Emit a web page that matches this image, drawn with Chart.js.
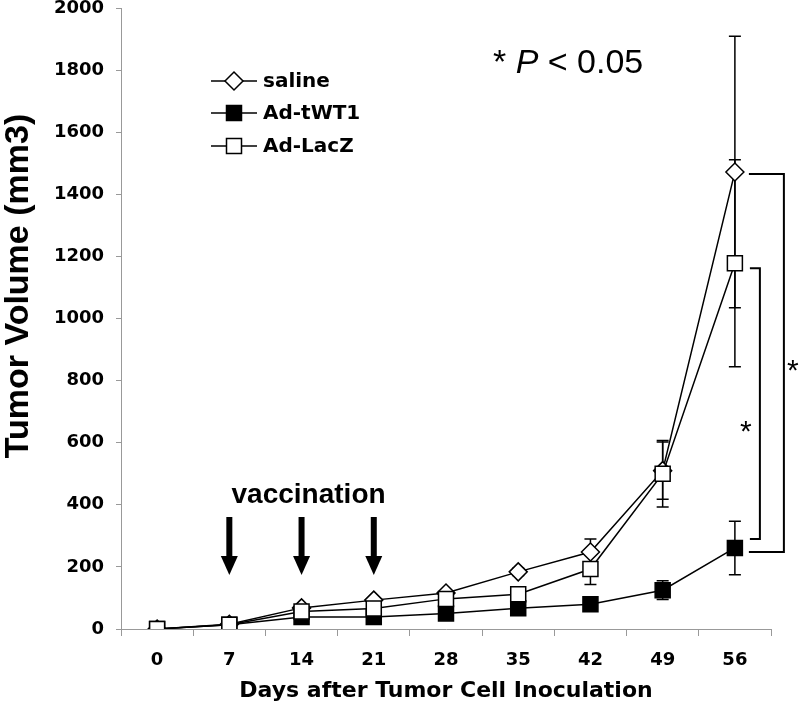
<!DOCTYPE html>
<html>
<head>
<meta charset="utf-8">
<script src="https://cdn.jsdelivr.net/npm/chart.js@4.4.1/dist/chart.umd.min.js"></script>
<style>
html, body { margin: 0; padding: 0; background: #fff; }
</style>
</head>
<body>
<canvas id="myChart" width="800" height="709"></canvas>
<script>
// days after inoculation
const days = ['0', '7', '14', '21', '28', '35', '42', '49', '56'];
const yTicks = [0, 200, 400, 600, 800, 1000, 1200, 1400, 1600, 1800, 2000];

const saline   = [0, 15, 68, 93, 116, 184, 248, 510, 1472];
const salineSd = [0, 6, 8, 8, 10, 12, 42, 92, 437];
const adTWT1   = [0, 14, 39, 39, 50, 67, 80, 125, 261];
const adTWT1Sd = [0, 5, 6, 6, 8, 8, 10, 30, 86];
const adLacZ   = [0, 14, 56, 66, 97, 112, 193, 500, 1178];
const adLacZSd = [0, 6, 8, 8, 10, 12, 50, 107, 333];

const vaccinationDays = ['7', '14', '21'];

// error bars under the lines / markers
const errorBars = {
  id: 'errorBars',
  beforeDatasetsDraw(chart) {
    const ctx = chart.ctx;
    const x = chart.scales.x, y = chart.scales.y;
    ctx.save();
    ctx.strokeStyle = '#000';
    ctx.lineWidth = 1.5;
    chart.data.datasets.forEach(ds => {
      ds.data.forEach((v, j) => {
        const e = ds.errors[j];
        if (!e) return;
        const px = x.getPixelForValue(j);
        const t = y.getPixelForValue(v + e);
        const b = y.getPixelForValue(Math.max(0, v - e));
        ctx.beginPath();
        ctx.moveTo(px, t); ctx.lineTo(px, b);
        ctx.moveTo(px - 6, t); ctx.lineTo(px + 6, t);
        ctx.moveTo(px - 6, b); ctx.lineTo(px + 6, b);
        ctx.stroke();
      });
    });
    ctx.restore();
  }
};

function marker(ctx, style, fill, cx, cy) {
  ctx.beginPath();
  if (style === 'rectRot') {
    const r = 9;
    ctx.moveTo(cx - r, cy); ctx.lineTo(cx, cy - r);
    ctx.lineTo(cx + r, cy); ctx.lineTo(cx, cy + r);
    ctx.closePath();
  } else {
    ctx.rect(cx - 7.5, cy - 7.5, 15, 15);
  }
  ctx.fillStyle = fill;
  ctx.fill();
  ctx.lineWidth = 1.5;
  ctx.strokeStyle = '#000';
  ctx.stroke();
}

// legend, axis title, arrows, brackets, p-value text
const extras = {
  id: 'extras',
  afterDraw(chart) {
    const ctx = chart.ctx;
    const x = chart.scales.x, y = chart.scales.y;
    ctx.save();

    // y axis title (sits a bit above the axis centre in the original)
    ctx.save();
    ctx.translate(28, 286);
    ctx.rotate(-Math.PI / 2);
    ctx.font = 'bold 34px "Liberation Sans"';
    ctx.fillStyle = '#000';
    ctx.textAlign = 'center';
    ctx.textBaseline = 'alphabetic';
    ctx.fillText('Tumor Volume (mm3)', 0, 0);
    ctx.restore();

    // legend
    const rows = [81, 113, 146];
    chart.data.datasets.forEach((ds, i) => {
      const ry = rows[i];
      ctx.beginPath();
      ctx.moveTo(211, ry); ctx.lineTo(257, ry);
      ctx.lineWidth = 1.5; ctx.strokeStyle = '#000';
      ctx.stroke();
      marker(ctx, ds.pointStyle, ds.pointBackgroundColor, 234, ry);
      ctx.fillStyle = '#000';
      ctx.font = 'bold 20px "DejaVu Sans"';
      ctx.textBaseline = 'middle';
      ctx.textAlign = 'left';
      ctx.fillText(ds.label, 263, ry + 1);
    });

    // vaccination arrows
    ctx.fillStyle = '#000';
    vaccinationDays.forEach(d => {
      const px = x.getPixelForValue(days.indexOf(d));
      ctx.fillRect(px - 3, 517, 6, 43);
      ctx.beginPath();
      ctx.moveTo(px - 8.5, 556); ctx.lineTo(px + 8.5, 556); ctx.lineTo(px, 575);
      ctx.closePath();
      ctx.fill();
    });
    const midX = x.getPixelForValue(days.indexOf('14'));
    ctx.font = 'bold 28px "Liberation Sans"';
    ctx.textAlign = 'center';
    ctx.textBaseline = 'alphabetic';
    ctx.fillText('vaccination', midX + 7, 503);

    // significance brackets at day 56
    const last = days.length - 1;
    const lx = x.getPixelForValue(last);
    ctx.lineWidth = 2;
    ctx.strokeStyle = '#000';
    const outerTop = y.getPixelForValue(saline[last]) + 2;
    const outerBot = y.getPixelForValue(adTWT1[last]) + 4;
    ctx.beginPath();
    ctx.moveTo(lx + 14, outerTop); ctx.lineTo(lx + 49, outerTop);
    ctx.lineTo(lx + 49, outerBot); ctx.lineTo(lx + 14, outerBot);
    ctx.stroke();
    const innerTop = y.getPixelForValue(adLacZ[last]) + 5;
    const innerBot = y.getPixelForValue(adTWT1[last]) - 9;
    ctx.beginPath();
    ctx.moveTo(lx + 15, innerTop); ctx.lineTo(lx + 25, innerTop);
    ctx.lineTo(lx + 25, innerBot); ctx.lineTo(lx + 15, innerBot);
    ctx.stroke();
    ctx.font = '30px "Liberation Sans"';
    ctx.textAlign = 'center';
    ctx.fillText('*', lx + 58, (outerTop + outerBot) / 2 + 17);
    ctx.fillText('*', lx + 11, (innerTop + innerBot) / 2 + 37);

    // p-value note
    ctx.textAlign = 'left';
    let tx = 493;
    const parts = [['* ', '34px "Liberation Sans"'], ['P', 'italic 34px "Liberation Sans"'], [' < 0.05', '34px "Liberation Sans"']];
    parts.forEach(([s, f]) => {
      ctx.font = f;
      ctx.fillText(s, tx, 73);
      tx += ctx.measureText(s).width;
    });
    ctx.restore();
  }
};

const ctx = document.getElementById('myChart');
const chart = new Chart(ctx, {
  type: 'line',
  data: {
    labels: days,
    datasets: [{
      label: 'saline',
      data: saline,
      errors: salineSd,
      order: 3,
      borderColor: '#000',
      borderWidth: 1.5,
      pointStyle: 'rectRot',
      pointRadius: 9,
      pointBorderWidth: 1.5,
      pointBorderColor: '#000',
      pointBackgroundColor: '#fff',
      tension: 0
    }, {
      label: 'Ad-tWT1',
      data: adTWT1,
      errors: adTWT1Sd,
      order: 2,
      borderColor: '#000',
      borderWidth: 1.5,
      pointStyle: 'rect',
      pointRadius: 10.6,
      pointBorderWidth: 1.5,
      pointBorderColor: '#000',
      pointBackgroundColor: '#000',
      tension: 0
    }, {
      label: 'Ad-LacZ',
      data: adLacZ,
      errors: adLacZSd,
      order: 1,
      borderColor: '#000',
      borderWidth: 1.5,
      pointStyle: 'rect',
      pointRadius: 10.6,
      pointBorderWidth: 1.5,
      pointBorderColor: '#000',
      pointBackgroundColor: '#fff',
      tension: 0
    }]
  },
  options: {
    responsive: false,
    animation: false,
    layout: { autoPadding: false, padding: { top: 8, right: 29, left: 0, bottom: 0 } },
    plugins: {
      legend: { display: false },
      tooltip: { enabled: false }
    },
    scales: {
      x: {
        offset: true,
        grid: { offset: true, drawOnChartArea: false, color: '#999', tickLength: 7 },
        border: { color: '#999' },
        ticks: { font: { family: 'DejaVu Sans', weight: 'bold', size: 18 }, color: '#000', padding: 14, maxRotation: 0 },
        title: {
          display: true,
          text: 'Days after Tumor Cell Inoculation',
          color: '#000',
          font: { family: 'DejaVu Sans', weight: 'bold', size: 22 },
          padding: { top: 0, bottom: 5 }
        },
        afterFit(scale) { scale.height = 80; }
      },
      y: {
        min: 0,
        max: 2000,
        afterBuildTicks(scale) { scale.ticks = yTicks.map(v => ({ value: v })); },
        grid: { drawOnChartArea: false, color: '#999', tickLength: 5 },
        border: { color: '#999' },
        ticks: {
          font: { family: 'DejaVu Sans', weight: 'bold', size: 18 },
          color: '#000',
          padding: 12,
          callback: v => String(v)
        },
        afterFit(scale) {
          scale.width = 121;
          scale.paddingTop = 0;
          scale.paddingBottom = 0;
        }
      }
    }
  },
  plugins: [errorBars, extras]
});
</script>
</body>
</html>
